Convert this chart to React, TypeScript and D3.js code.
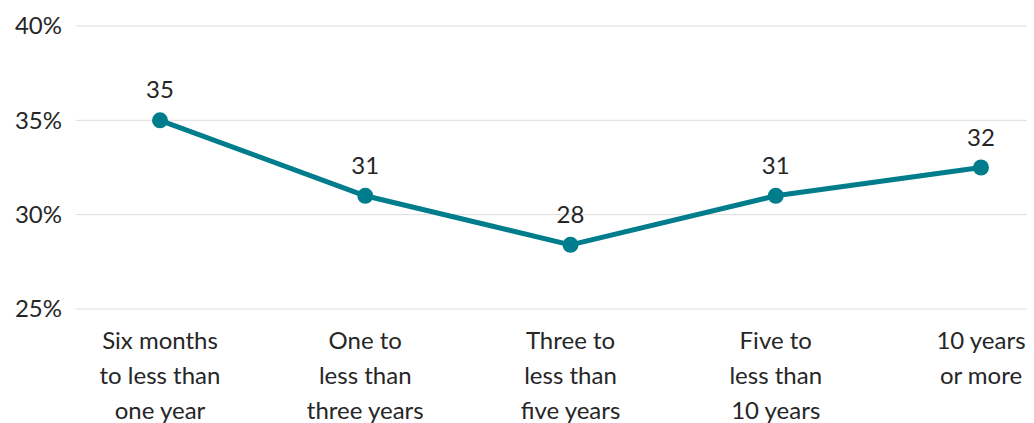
import React from "react";
import * as d3 from "d3";

const categories: string[][] = [
  ["Six months", "to less than", "one year"],
  ["One to", "less than", "three years"],
  ["Three to", "less than", "five years"],
  ["Five to", "less than", "10 years"],
  ["10 years", "or more"],
];
const values: number[] = [35.0, 31.0, 28.4, 31.0, 32.5];
const valueLabels: string[] = ["35", "31", "28", "31", "32"];
const yTicks: number[] = [25, 30, 35, 40];

const W = 1034;
const H = 423;
const FONT = "Lato, 'Open Sans', sans-serif";
const COLOR = "#007d8c";
const FS = 24;

export default function App() {
  const x = d3
    .scalePoint<number>()
    .domain(d3.range(categories.length))
    .range([160, 981]);
  const y = d3.scaleLinear().domain([25, 40]).range([309, 26]);
  const line = d3
    .line<number>()
    .x((_, i) => x(i)!)
    .y((d) => y(d));

  return (
    <svg
      width={W}
      height={H}
      style={{ position: "absolute", left: 0, top: 0, background: "#fff" }}
      fontFamily={FONT}
    >
      {yTicks.map((t) => (
        <g key={t}>
          <line x1={76} x2={1027} y1={y(t)} y2={y(t)} stroke="#dcdcdc" strokeWidth={1} />
          <text
            x={62}
            y={y(t)}
            dy="0.35em"
            textAnchor="end"
            fontSize={FS}
            fill="#262626"
          >
            {t}%
          </text>
        </g>
      ))}
      <path d={line(values) || ""} fill="none" stroke={COLOR} strokeWidth={5} strokeLinejoin="round" />
      {values.map((v, i) => (
        <g key={i}>
          <circle cx={x(i)} cy={y(v)} r={8} fill={COLOR} />
          <text x={x(i)} y={y(v) - 22} textAnchor="middle" fontSize={FS} fill="#262626">
            {valueLabels[i]}
          </text>
        </g>
      ))}
      {categories.map((lines, i) => (
        <text key={i} x={x(i)} y={349} textAnchor="middle" fontSize={FS} fill="#262626">
          {lines.map((l, j) => (
            <tspan key={j} x={x(i)} dy={j === 0 ? 0 : 35}>
              {l}
            </tspan>
          ))}
        </text>
      ))}
    </svg>
  );
}
